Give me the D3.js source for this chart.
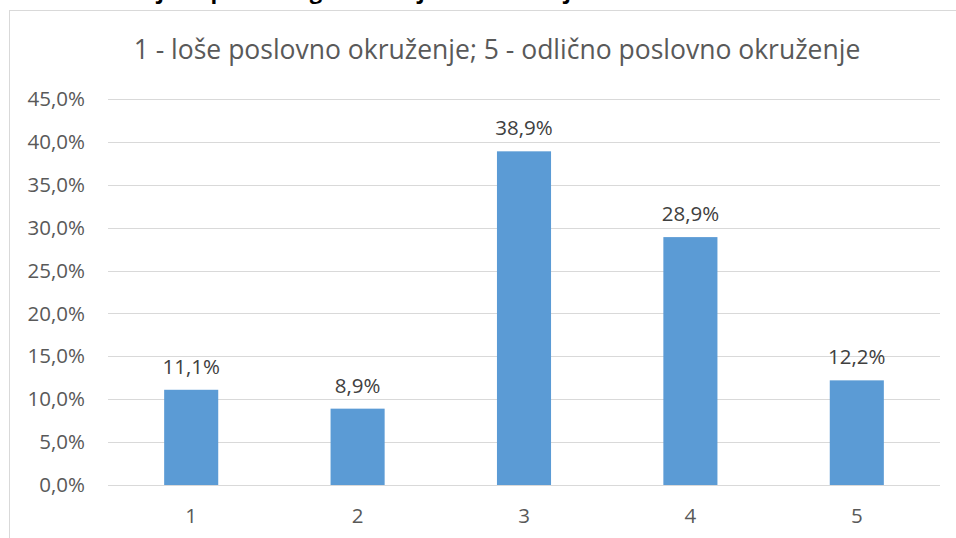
<!DOCTYPE html>
<html><head><meta charset="utf-8">
<script src="https://cdn.jsdelivr.net/npm/d3@7"></script>
<style>
html,body{margin:0;padding:0;background:#fff;overflow:hidden}
text{font-family:"Open Sans","Noto Sans",sans-serif}
</style></head>
<body>
<svg id="c" width="956" height="538"></svg>
<script>
const categories = ["1","2","3","4","5"];
const values = [11.1, 8.9, 38.9, 28.9, 12.2];
const yTicks = [0,5,10,15,20,25,30,35,40,45];
const title = "1 - loše poslovno okruženje; 5 - odlično poslovno okruženje";
const caption = "Grafikon 5: Ocjena poslovnog okruženja u Hrvatskoj";

const svg = d3.select("#c");
const fmt = v => d3.format(".1f")(v).replace(".", ",") + "%";

// cropped caption above the chart frame (only descenders visible, as in the reference)
svg.append("text").attr("x", 2).attr("y", -1)
  .attr("font-weight", "bold").attr("font-size", 22).attr("fill", "#000")
  .text(caption);

// chart frame
svg.append("rect").attr("x", 9.5).attr("y", 10.5).attr("width", 960).attr("height", 540)
  .attr("fill", "#fff").attr("stroke", "#d9d9d9").attr("stroke-width", 1);

const x = d3.scaleBand().domain(categories).range([108, 940])
  .paddingInner(0.675).paddingOuter(0.3375);
const y = d3.scaleLinear().domain([0, 45]).range([485, 99]);

// gridlines
svg.append("g").selectAll("line").data(yTicks).join("line")
  .attr("x1", 108).attr("x2", 940)
  .attr("y1", d => Math.round(y(d)) + 0.5).attr("y2", d => Math.round(y(d)) + 0.5)
  .attr("stroke", "#d9d9d9").attr("stroke-width", 1);

// y axis labels
const yAxis = d3.axisLeft(y).tickValues(yTicks).tickFormat(fmt).tickSize(0).tickPadding(0);
const gy = svg.append("g").attr("transform", "translate(85,0)").call(yAxis);
gy.select(".domain").remove();
gy.selectAll("text").attr("font-size", 20.5).attr("fill", "#595959")
  .attr("font-family", "'Open Sans','Noto Sans',sans-serif");

// bars
svg.append("g").selectAll("rect").data(values).join("rect")
  .attr("x", (d, i) => x(categories[i]))
  .attr("width", x.bandwidth())
  .attr("y", d => y(d))
  .attr("height", d => y(0) - y(d))
  .attr("fill", "#5b9bd5");

// x axis line
svg.append("line").attr("x1", 108).attr("x2", 940)
  .attr("y1", Math.round(y(0)) + 0.5).attr("y2", Math.round(y(0)) + 0.5)
  .attr("stroke", "#d9d9d9");

// x axis labels
const xAxis = d3.axisBottom(x).tickSize(0).tickPadding(0);
const gx = svg.append("g").attr("transform", "translate(0,508)").call(xAxis);
gx.select(".domain").remove();
gx.selectAll("text").attr("font-size", 20.5).attr("fill", "#595959")
  .attr("font-family", "'Open Sans','Noto Sans',sans-serif");

// data labels
svg.append("g").selectAll("text").data(values).join("text")
  .attr("x", (d, i) => x(categories[i]) + x.bandwidth() / 2)
  .attr("y", d => y(d) - 16)
  .attr("text-anchor", "middle").attr("font-size", 20.5).attr("fill", "#404040")
  .text(d => fmt(d));

// title
svg.append("text").attr("x", 497).attr("y", 59).attr("text-anchor", "middle")
  .attr("font-size", 26.5).attr("fill", "#595959").text(title);
</script>
</body></html>
